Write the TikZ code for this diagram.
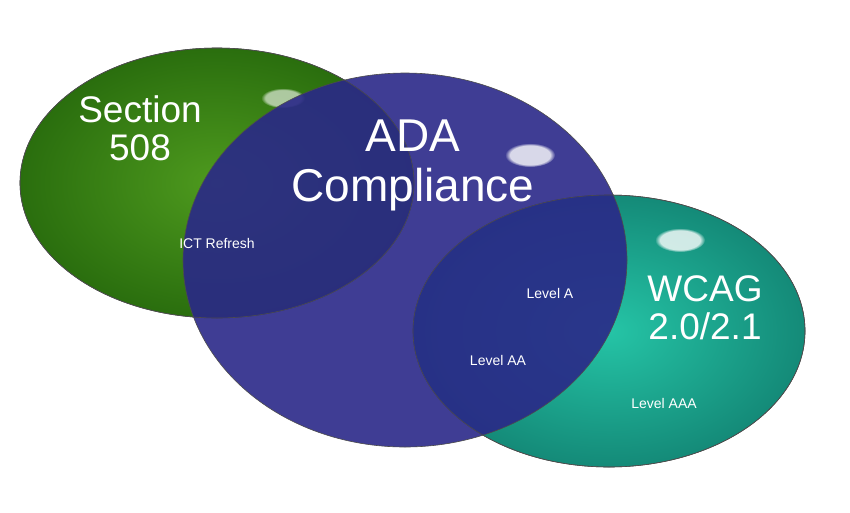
\documentclass[tikz,border=0pt]{standalone}
\usepackage{fontspec}
\setmainfont{Liberation Sans}
\usetikzlibrary{fadings}
\begin{document}
\begin{tikzpicture}[x=1pt,y=-1pt,
  big/.style={text=white,align=center,font=\fontsize{37}{38}\selectfont},
  huge/.style={text=white,align=center,font=\fontsize{46}{50}\selectfont},
  small/.style={text=white,font=\fontsize{14}{16}\selectfont},
  edge/.style={draw=black!70,line width=0.6pt},
  glow/.style={fill=white,path fading=circle with fuzzy edge 20 percent}]
\useasboundingbox (0,0) rectangle (850,512);
\definecolor{grn}{HTML}{2A6E0E}
\definecolor{grnl}{HTML}{4E9A1E}
\definecolor{tea}{HTML}{148A78}
\definecolor{teal2}{HTML}{25C4A6}
\definecolor{blu}{HTML}{2A2888}
\shade[inner color=grnl,outer color=grn,edge] (217,183) ellipse[x radius=197,y radius=135];
\shade[inner color=teal2,outer color=tea,edge] (609,331) ellipse[x radius=196,y radius=136];
\fill[glow,opacity=0.6] (283,98) ellipse[x radius=22,y radius=10];
\fill[glow,opacity=0.8] (680,240) ellipse[x radius=25,y radius=12];
\fill[blu,opacity=0.9] (405,260) ellipse[x radius=222,y radius=187];
\draw[edge] (405,260) ellipse[x radius=222,y radius=187];
\draw[edge] (609,331) ellipse[x radius=196,y radius=136];
\draw[edge] (217,183) ellipse[x radius=197,y radius=135];
\fill[glow,opacity=0.8] (530,155) ellipse[x radius=25,y radius=12];
\node[big] (s508) at (140,128) {Section\\508};
\node[huge] (ada) at (413,165) {ADA\\Compliance};
\node[big] (wcag) at (705,308) {WCAG\\2.0/2.1};
\node[small] (ict) at (217,243) {ICT Refresh};
\node[small] (la) at (550,293) {Level A};
\node[small] (laa) at (498,360) {Level AA};
\node[small] (laaa) at (664,403) {Level AAA};
\end{tikzpicture}
\end{document}
